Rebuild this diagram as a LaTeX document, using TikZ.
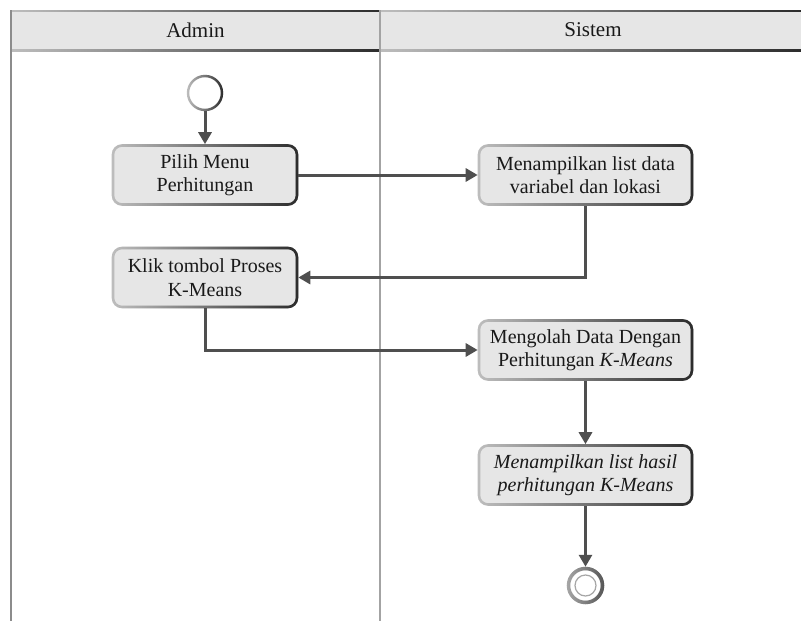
\documentclass[tikz,border=0pt]{standalone}
\usepackage{fontspec}
\setmainfont{Liberation Serif}
\usetikzlibrary{arrows.meta,fadings,positioning}
\definecolor{boxfill}{HTML}{E6E6E6}
\definecolor{edgelight}{HTML}{BEBEBE}
\definecolor{edgedark}{HTML}{2C2C2C}
\definecolor{flow}{HTML}{4F4F4F}
\definecolor{lanerule}{HTML}{8C8C8C}
\tikzset{
  action/.style={rectangle, rounded corners=9pt, fill=boxfill, draw=edgelight,
    line width=2.6pt, align=center, inner sep=2pt, font=\fontsize{20}{23.5}\selectfont,
    minimum height=59pt, text=black!90,
    postaction={draw=edgedark, line width=2.6pt, path fading=west}},
  leftact/.style={action, minimum width=184pt},
  rightact/.style={action, minimum width=213pt},
  flowline/.style={draw=flow, line width=3pt, -{Triangle[length=12pt,width=13pt]}},
  startnode/.style={circle, minimum size=34pt, inner sep=0pt, fill=white, draw=edgelight,
    line width=2.4pt, postaction={draw=edgedark, line width=2.4pt, path fading=west}},
  endnode/.style={circle, minimum size=34pt, inner sep=0pt, fill=white, draw=gray!70,
    line width=3.5pt, postaction={draw=edgedark!80, line width=3.5pt, path fading=west}},
  headtext/.style={font=\fontsize{21}{24}\selectfont, text=black!90},
}
\begin{document}
\begin{tikzpicture}[x=1pt,y=-1pt]
\useasboundingbox (0,0) rectangle (801,621);
% lane headers
\fill[boxfill] (11,11) rectangle (801,49);
\foreach \a/\b in {11/380,380/801}{
  \fill[edgelight] (\a,9.5) rectangle (\b,12);
  \fill[edgedark, path fading=west] (\a,9.5) rectangle (\b,12);
  \fill[edgelight] (\a,48.5) rectangle (\b,51.5);
  \fill[edgedark, path fading=west] (\a,48.5) rectangle (\b,51.5);
}
\node[headtext] (hadmin) at (195.5,30) {Admin};
\node[headtext] (hsistem) at (593,30) {Sistem};
% lane rules
\draw[lanerule, line width=2.5pt] (11,10) -- (11,621);
\draw[lanerule!80, line width=2.5pt] (380,10) -- (380,621);

% nodes
\node[startnode] (start) at (205,93) {};
\node[leftact] (pilih) at (205,175) {Pilih Menu\\Perhitungan};
\node[rightact] (tampil) at (585.5,175) {Menampilkan list data\\variabel dan lokasi};
\node[leftact] (klik) at (205,277.5) {Klik tombol Proses\\K-Means};
\node[rightact] (olah) at (585.5,350) {Mengolah Data Dengan\\Perhitungan \textit{K-Means}};
\node[rightact] (hasil) at (585.5,475) {\textit{Menampilkan list hasil}\\\textit{perhitungan K-Means}};
\node[endnode] (stop) at (585.5,585.5) {};
\draw[gray!70, line width=1.2pt] (stop.center) circle (10.5pt);

% connectors
\draw[flowline] (start) -- (pilih);
\draw[flowline] (pilih) -- (tampil);
\draw[flowline] (tampil.south) |- (klik.east);
\draw[flowline] (klik.south) |- (olah.west);
\draw[flowline] (olah) -- (hasil);
\draw[flowline] (hasil) -- (stop);
\end{tikzpicture}
\end{document}
